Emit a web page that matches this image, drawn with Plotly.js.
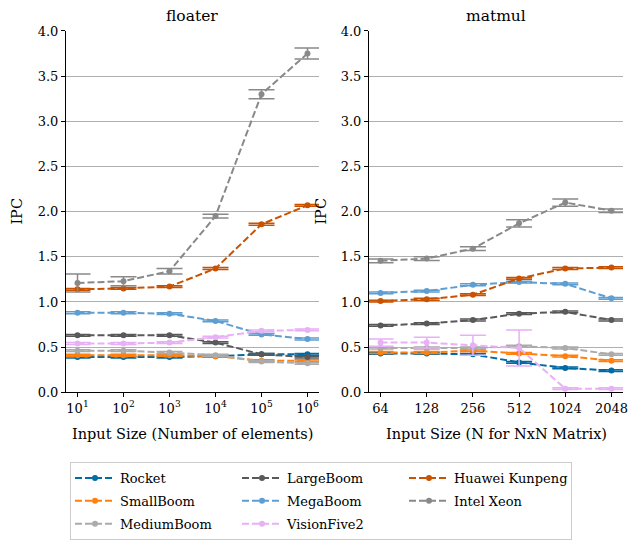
<!DOCTYPE html>
<html>
<head>
<meta charset="utf-8">
<script src="https://cdn.plot.ly/plotly-3.0.1.min.js"></script>
<style>html,body{margin:0;padding:0;background:#fff;}#chart{width:628px;height:540px;}</style>
</head>
<body>
<div id="chart"></div>
<script>
// ---- data ----
const floaterX = [10, 100, 1000, 10000, 100000, 1000000];
const floaterTickVals = [10, 100, 1000, 10000, 100000, 1000000];
const floaterTickText = ['10<sup>1</sup>','10<sup>2</sup>','10<sup>3</sup>','10<sup>4</sup>','10<sup>5</sup>','10<sup>6</sup>'];
const matmulX = ['64', '128', '256', '512', '1024', '2048'];

const seriesNames = ['Rocket','SmallBoom','MediumBoom','LargeBoom','MegaBoom','VisionFive2','Huawei Kunpeng','Intel Xeon'];
const seriesColors = ['#006BA4','#FF800E','#ABABAB','#595959','#5F9ED1','#E8B0F5','#C85200','#898989'];
// legend order (row-major to mimic 3-column column-major layout)
const legendRanks = [1, 4, 7, 2, 5, 8, 3, 6];

const floaterIPC = {
  'Rocket':         [0.39, 0.39, 0.39, 0.40, 0.42, 0.42],
  'SmallBoom':      [0.41, 0.41, 0.41, 0.40, 0.35, 0.35],
  'MediumBoom':     [0.46, 0.46, 0.44, 0.41, 0.34, 0.32],
  'LargeBoom':      [0.63, 0.63, 0.63, 0.55, 0.42, 0.39],
  'MegaBoom':       [0.88, 0.88, 0.87, 0.79, 0.64, 0.59],
  'VisionFive2':    [0.54, 0.54, 0.55, 0.61, 0.68, 0.69],
  'Huawei Kunpeng': [1.14, 1.15, 1.17, 1.37, 1.86, 2.07],
  'Intel Xeon':     [1.21, 1.23, 1.34, 1.95, 3.30, 3.75]
};
const floaterErr = {
  'Rocket':         [0.01, 0.01, 0.01, 0.01, 0.01, 0.01],
  'SmallBoom':      [0.01, 0.01, 0.01, 0.01, 0.01, 0.01],
  'MediumBoom':     [0.01, 0.01, 0.01, 0.01, 0.01, 0.01],
  'LargeBoom':      [0.01, 0.01, 0.01, 0.01, 0.01, 0.01],
  'MegaBoom':       [0.01, 0.01, 0.01, 0.01, 0.01, 0.01],
  'VisionFive2':    [0.01, 0.01, 0.01, 0.01, 0.01, 0.01],
  'Huawei Kunpeng': [0.01, 0.01, 0.01, 0.01, 0.01, 0.01],
  'Intel Xeon':     [0.10, 0.05, 0.03, 0.02, 0.05, 0.06]
};
const matmulIPC = {
  'Rocket':         [0.43, 0.43, 0.42, 0.33, 0.27, 0.24],
  'SmallBoom':      [0.44, 0.44, 0.46, 0.43, 0.40, 0.35],
  'MediumBoom':     [0.49, 0.49, 0.49, 0.51, 0.49, 0.42],
  'LargeBoom':      [0.74, 0.76, 0.80, 0.87, 0.89, 0.80],
  'MegaBoom':       [1.10, 1.12, 1.19, 1.22, 1.20, 1.04],
  'VisionFive2':    [0.55, 0.55, 0.52, 0.49, 0.04, 0.04],
  'Huawei Kunpeng': [1.01, 1.03, 1.08, 1.26, 1.37, 1.38],
  'Intel Xeon':     [1.455, 1.48, 1.59, 1.87, 2.10, 2.01]
};
const matmulErr = {
  'Rocket':         [0.01, 0.01, 0.01, 0.01, 0.01, 0.01],
  'SmallBoom':      [0.01, 0.01, 0.01, 0.01, 0.01, 0.01],
  'MediumBoom':     [0.01, 0.01, 0.01, 0.01, 0.01, 0.01],
  'LargeBoom':      [0.01, 0.01, 0.01, 0.01, 0.01, 0.01],
  'MegaBoom':       [0.01, 0.01, 0.01, 0.01, 0.01, 0.01],
  'VisionFive2':    [0.04, 0.06, 0.11, 0.20, 0.01, 0.01],
  'Huawei Kunpeng': [0.01, 0.01, 0.01, 0.01, 0.01, 0.01],
  'Intel Xeon':     [0.02, 0.02, 0.02, 0.04, 0.04, 0.02]
};
const yTickVals = [0, 0.5, 1, 1.5, 2, 2.5, 3, 3.5, 4];
const yTickText = ['0.0','0.5','1.0','1.5','2.0','2.5','3.0','3.5','4.0'];

// ---- build ----
const FONT = 'DejaVu Serif, serif';
const traces = [];
function mk(name, i, xs, ys, es, xa, ya, showleg) {
  return {
    type: 'scatter', mode: 'lines+markers', name: name,
    x: xs, y: ys, xaxis: xa, yaxis: ya,
    legendgroup: name, showlegend: showleg, legendrank: legendRanks[i],
    line: {color: seriesColors[i], width: 2, dash: '7px,3px'},
    marker: {color: seriesColors[i], size: 6},
    error_y: {type: 'data', array: es, visible: true, color: seriesColors[i], thickness: 1.5, width: 13}
  };
}
seriesNames.forEach((n, i) => {
  traces.push(mk(n, i, floaterX, floaterIPC[n], floaterErr[n], 'x', 'y', true));
});
seriesNames.forEach((n, i) => {
  traces.push(mk(n, i, matmulX, matmulIPC[n], matmulErr[n], 'x2', 'y2', false));
});

const axisCommon = {
  showline: true, linecolor: '#000', linewidth: 1,
  ticks: 'outside', ticklen: 4, tickwidth: 1, tickcolor: '#000',
  tickfont: {family: FONT, size: 13, color: '#000'},
  zeroline: false
};
const yCommon = Object.assign({}, axisCommon, {
  range: [0, 4], tickvals: yTickVals, ticktext: yTickText,
  showgrid: true, gridcolor: '#b0b0b0', gridwidth: 1
});

const layout = {
  width: 628, height: 540,
  margin: {l: 0, r: 0, t: 0, b: 0},
  paper_bgcolor: '#fff', plot_bgcolor: '#fff',
  font: {family: FONT, color: '#000'},
  showlegend: true,
  xaxis: Object.assign({}, axisCommon, {
    domain: [66/628, 319/628], type: 'log', range: [0.75, 6.25],
    tickvals: floaterTickVals, ticktext: floaterTickText, showgrid: false, anchor: 'y'
  }),
  yaxis: Object.assign({}, yCommon, {domain: [1 - 393/540, 1 - 31/540], anchor: 'x'}),
  xaxis2: Object.assign({}, axisCommon, {
    domain: [369/628, 623/628], type: 'category', range: [-0.25, 5.25],
    showgrid: false, anchor: 'y2'
  }),
  yaxis2: Object.assign({}, yCommon, {domain: [1 - 393/540, 1 - 31/540], anchor: 'x2'}),
  legend: {
    orientation: 'h', x: 70/628, y: 1 - 463/540, xanchor: 'left', yanchor: 'top',
    bgcolor: '#fff', bordercolor: '#cccccc', borderwidth: 1,
    font: {family: FONT, size: 13, color: '#000'},
    entrywidth: 112, entrywidthmode: 'pixels', tracegroupgap: 3,
    itemwidth: 40
  },
  annotations: [
    {text: 'floater', xref: 'paper', yref: 'paper', x: 192/628, y: 1 - 16/540, showarrow: false, font: {family: FONT, size: 15.5}, xanchor: 'center', yanchor: 'middle'},
    {text: 'matmul', xref: 'paper', yref: 'paper', x: 496/628, y: 1 - 16/540, showarrow: false, font: {family: FONT, size: 15.5}, xanchor: 'center', yanchor: 'middle'},
    {text: 'Input Size (Number of elements)', xref: 'paper', yref: 'paper', x: 192/628, y: 1 - 435/540, showarrow: false, font: {family: FONT, size: 14.5}, xanchor: 'center', yanchor: 'middle'},
    {text: 'Input Size (N for NxN Matrix)', xref: 'paper', yref: 'paper', x: 496/628, y: 1 - 435/540, showarrow: false, font: {family: FONT, size: 14.5}, xanchor: 'center', yanchor: 'middle'},
    {text: 'IPC', xref: 'paper', yref: 'paper', x: 17/628, y: 1 - 212/540, showarrow: false, textangle: -90, font: {family: FONT, size: 14.5}, xanchor: 'center', yanchor: 'middle'},
    {text: 'IPC', xref: 'paper', yref: 'paper', x: 321/628, y: 1 - 212/540, showarrow: false, textangle: -90, font: {family: FONT, size: 14.5}, xanchor: 'center', yanchor: 'middle'}
  ]
};

Plotly.newPlot('chart', traces, layout, {displayModeBar: false, staticPlot: true});
</script>
</body>
</html>
